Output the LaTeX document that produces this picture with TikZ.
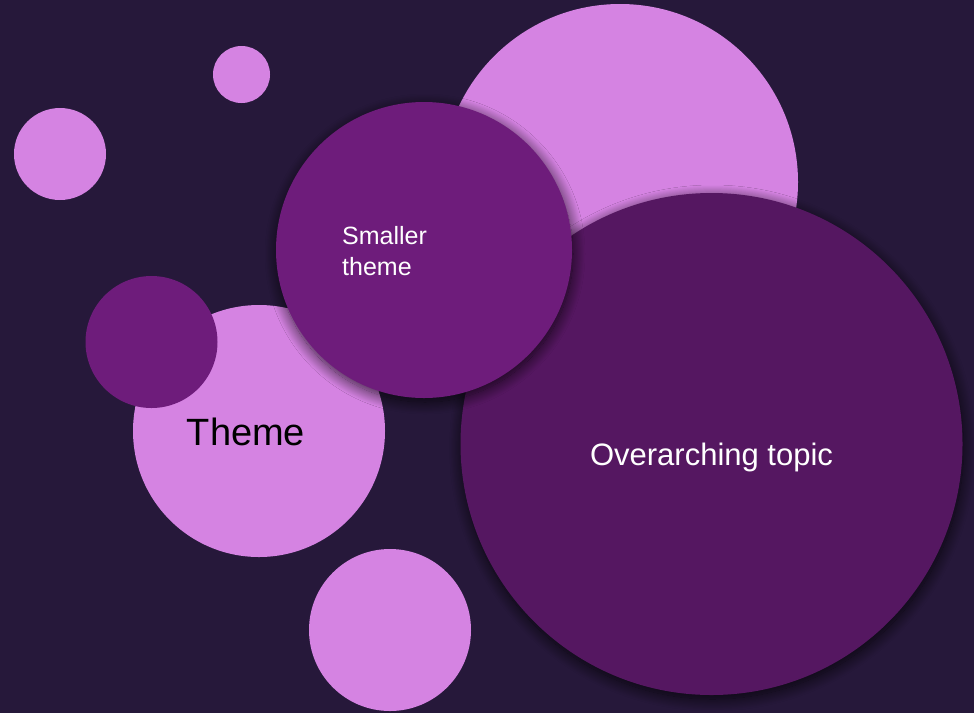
\documentclass[tikz,border=0pt]{standalone}
\usepackage{fontspec}
\setmainfont{Liberation Sans}
\usetikzlibrary{shadows.blur}
\definecolor{nightbg}{HTML}{26183A}
\definecolor{orchid}{HTML}{D583E2}
\definecolor{plum}{HTML}{6E1C7B}
\definecolor{deepplum}{HTML}{551761}
\tikzset{
  bubble/.style={circle, inner sep=0pt, minimum size=#1},
  pale/.style={bubble=#1, fill=orchid},
  dark/.style={bubble=#1, fill=plum},
  softshadow/.style={blur shadow={shadow xshift=1pt, shadow yshift=-4pt,
      shadow blur radius=12pt, shadow blur steps=24, shadow opacity=75}},
  caption/.style={inner sep=0pt, font=\fontsize{#1}{#1}\selectfont}
}

\begin{document}
\begin{tikzpicture}[x=1pt, y=-1pt]
			%%%%% BACKGROUND %%%%%
			\useasboundingbox (0,0) rectangle (974,713);
			\fill[nightbg] (0,0) rectangle (974,713);
			
			%%%%% SMALL BUBBLES %%%%%
			\node[pale=57pt] (dot) at (241.5,74.5) {};
			\node[pale=92pt] (lefty) at (60,154) {};
			\node[pale=162pt] (bottom) at (390,630) {};
			
			\node[pale=356pt] (crown) at (620,182) {};
			
			%%%%% THEME %%%%%
			\node[pale=252pt] (theme) at (259,431) {};
			\node[dark=132pt] (satellite) at (151.5,342) {};
			\node[caption=38pt, text=black] (themetext) at (246,432) {Theme};
			
			%%%%% TOPIC %%%%%
			\node[bubble=502pt, fill=deepplum, softshadow] (topic) at (711.5,444) {};
			\node[caption=31pt, text=white] (topictext) at (711.5,457) {Overarching topic};
			
			%%%%% SMALLER THEME %%%%%
			\node[dark=296pt, softshadow] (subtheme) at (424,250) {};
			\node[caption=25pt, text=white, align=left, anchor=west,
			  font=\fontsize{25pt}{31pt}\selectfont] (subtext) at (342,251) {Smaller\\theme};
\end{tikzpicture}
\end{document}
